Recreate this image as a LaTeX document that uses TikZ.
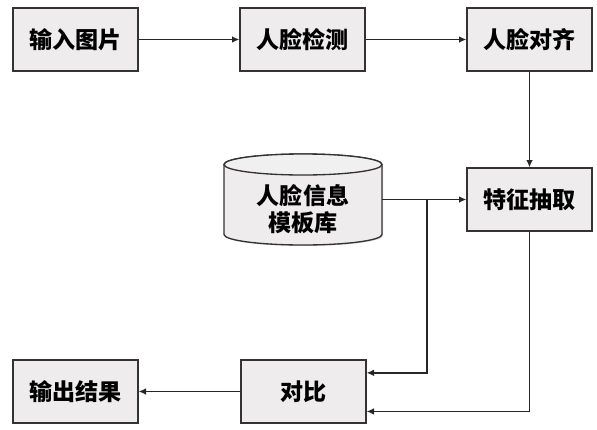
\documentclass[tikz,border=0pt]{standalone}
\usepackage{fontspec}
\newfontfamily\cjk{Noto Sans CJK SC}
\usetikzlibrary{arrows.meta,calc,shadows}
\definecolor{boxfill}{HTML}{EEECEC}
\definecolor{edge}{HTML}{333333}
\tikzset{
  box/.style={draw=edge, line width=1pt, fill=boxfill, minimum width=93.75pt, minimum height=47.25pt,
    inner sep=0pt, font=\cjk\bfseries\fontsize{17.3}{20.5}\selectfont,
    drop shadow={shadow xshift=0.8pt, shadow yshift=-0.8pt, opacity=0.35, fill=gray}},
  conn/.style={line width=1.05pt, draw=black!85, -{Latex[length=5.5pt,width=5pt]}}
}
\begin{document}
\begin{tikzpicture}[x=0.75pt,y=-0.75pt]
\useasboundingbox (0,0) rectangle (597,429);
\node[box] (in) at (75.5,39.5) {输入图片};
\node[box] (det) at (302.5,39.5) {人脸检测};
\node[box] (align) at (529.5,39.5) {人脸对齐};
\node[box] (feat) at (529.5,199.5) {特征抽取};
\node[box] (cmp) at (303.5,391.5) {对比};
\node[box] (out) at (75.5,391.5) {输出结果};
% cylinder
\fill[gray, opacity=0.35] (225,165.5) -- (225,235.5) arc[start angle=180,end angle=360,x radius=59.25pt,y radius=7.875pt] -- (383,165.5) -- cycle;
\filldraw[draw=edge, line width=1pt, fill=boxfill] (224,164.5) -- (224,234.5) arc[start angle=180,end angle=360,x radius=59.25pt,y radius=7.875pt] -- (382,164.5) arc[start angle=0,end angle=180,x radius=59.25pt,y radius=7.875pt] -- cycle;
\draw[draw=edge, line width=1pt, fill=boxfill!80!white] (303,164.5) ellipse[x radius=59.25pt,y radius=7.875pt];
\node[minimum width=118.5pt, minimum height=45pt, inner sep=0pt, align=center,
  font=\cjk\bfseries\fontsize{17.3}{20.5}\selectfont] (db) at (303,209) {人脸信息\\模板库};
\coordinate (j) at (427,199.5);
\draw[conn] (in) -- (det);
\draw[conn] (det) -- (align);
\draw[conn] (align) -- (feat);
\draw[conn] (db.east |- feat.west) -- (feat.west);
\draw[conn] (j) |- ($(cmp.north east)!0.21!(cmp.south east)$);
\draw[conn] (feat.south) |- ($(cmp.north east)!0.81!(cmp.south east)$);
\draw[conn] (cmp) -- (out);
\end{tikzpicture}
\end{document}
